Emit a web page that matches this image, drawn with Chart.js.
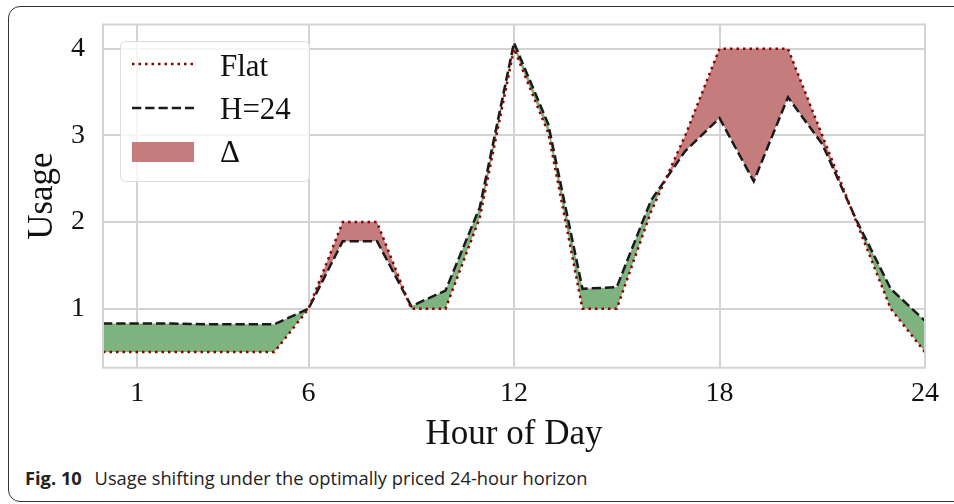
<!DOCTYPE html>
<html>
<head>
<meta charset="utf-8">
<script src="https://cdn.jsdelivr.net/npm/chart.js@4.4.1/dist/chart.umd.min.js"></script>
<style>
  body { margin: 0; background: #fff; }
  #wrap { position: relative; width: 954px; height: 504px; overflow: hidden; }
  #frame { position: absolute; left: 8px; top: 6px; width: 990px; height: 496px; box-sizing: border-box;
           border: 1.5px solid #333; border-radius: 12px; }
  #chart { position: absolute; left: 0; top: 0; }
  #caption { position: absolute; left: 25px; top: 469px; font-family: "Open Sans", sans-serif; font-size: 18.3px;
             line-height: 18px; color: #222; white-space: nowrap; }
  #caption b { font-weight: 700; margin-right: 8px; }
</style>
</head>
<body>
<div id="wrap">
  <div id="frame"></div>
  <canvas id="chart" width="954" height="460"></canvas>
  <div id="caption"><b>Fig. 10</b> Usage shifting under the optimally priced 24-hour horizon</div>
</div>
<script>
// hours of the day and usage of each schedule
const hours = [0, 1, 2, 3, 4, 5, 6, 7, 8, 9, 10, 11, 12, 13, 14, 15, 16, 17, 18, 19, 20, 21, 22, 23, 24];
const flatUsage = [0.5, 0.5, 0.5, 0.5, 0.5, 0.5, 1.0, 2.0, 2.0, 1.0, 1.0, 2.05, 4.0, 3.03, 1.0, 1.0, 2.12, 3.0, 4.0, 4.0, 4.0, 3.0, 2.0, 1.0, 0.5];
const h24Usage = [0.83, 0.83, 0.83, 0.82, 0.82, 0.82, 1.0, 1.78, 1.78, 1.03, 1.21, 2.17, 4.07, 3.13, 1.23, 1.25, 2.25, 2.82, 3.2, 2.47, 3.44, 2.9, 2.02, 1.23, 0.86];
const xTicks = [1, 6, 12, 18, 24];
const yTicks = [1, 2, 3, 4];
const legendLabels = ["Flat", "H=24", "\u0394"];

const serif = '"Liberation Serif", "Times New Roman", serif';
const red = "#8b0000";
const deltaRed = "rgb(196,124,124)";
const deltaGreen = "rgb(126,178,126)";
const gridColor = "#d3d3d3";

// frame round the plot and the legend box in the top left corner
const frameAndLegend = {
    id: "frameAndLegend",
    afterDatasetsDraw(chart) {
        const a = chart.chartArea;
        const ctx = chart.ctx;
        ctx.save();
        ctx.strokeStyle = gridColor;
        ctx.lineWidth = 2;
        ctx.strokeRect(a.left, a.top, a.right - a.left, a.bottom - a.top);
        ctx.restore();
    },
    afterDraw(chart) {
        const ctx = chart.ctx;
        ctx.save();
        ctx.beginPath();
        ctx.roundRect(120.5, 41.5, 189, 140, 5);
        ctx.fillStyle = "rgba(255,255,255,0.8)";
        ctx.fill();
        ctx.strokeStyle = "#dcdcdc";
        ctx.lineWidth = 1;
        ctx.stroke();

        ctx.lineCap = "butt";
        ctx.lineWidth = 2.5;
        ctx.strokeStyle = red;
        ctx.setLineDash([2.5, 4]);
        ctx.beginPath(); ctx.moveTo(132, 64); ctx.lineTo(194, 64); ctx.stroke();

        ctx.strokeStyle = "#1a1a1a";
        ctx.setLineDash([9.25, 4]);
        ctx.beginPath(); ctx.moveTo(132, 108); ctx.lineTo(194, 108); ctx.stroke();
        ctx.setLineDash([]);

        ctx.fillStyle = deltaRed;
        ctx.fillRect(132, 142, 62, 20);

        ctx.fillStyle = "#111";
        ctx.font = "31px " + serif;
        ctx.textBaseline = "alphabetic";
        ctx.fillText(legendLabels[0], 220, 76);
        ctx.fillText(legendLabels[1], 220, 119);
        ctx.fillText(legendLabels[2], 220, 162);
        ctx.restore();
    }
};

// keep the plot box where the reference has it
const noScalePadding = s => {
    s.paddingTop = 0; s.paddingBottom = 0; s.paddingLeft = 0; s.paddingRight = 0;
};

new Chart(document.getElementById("chart"), {
    type: "line",
    data: {
        datasets: [{
            label: legendLabels[0],
            data: hours.map((h, i) => ({ x: h, y: flatUsage[i] })),
            borderColor: red,
            borderWidth: 2.5,
            borderDash: [2.5, 4],
            borderCapStyle: "butt",
            pointRadius: 0,
            tension: 0,
            fill: { target: 1, above: deltaRed, below: deltaGreen }
        }, {
            label: legendLabels[1],
            data: hours.map((h, i) => ({ x: h, y: h24Usage[i] })),
            borderColor: "#1a1a1a",
            borderWidth: 2.5,
            borderDash: [9.25, 4],
            pointRadius: 0,
            tension: 0,
            fill: false
        }]
    },
    options: {
        responsive: false,
        animation: false,
        devicePixelRatio: 1,
        layout: { padding: { top: 24.5, right: 29, bottom: 0, left: 0 } },
        plugins: {
            legend: { display: false },
            tooltip: { enabled: false },
            filler: { drawTime: "beforeDatasetsDraw" }
        },
        scales: {
            x: {
                type: "linear",
                min: 0,
                max: 24,
                afterBuildTicks: s => { s.ticks = xTicks.map(v => ({ value: v })); },
                afterFit: s => { s.height = 92.3; noScalePadding(s); },
                grid: { color: gridColor, lineWidth: 2, drawTicks: false },
                border: { display: false },
                ticks: { font: { family: serif, size: 28 }, color: "#111", padding: 9, maxRotation: 0, autoSkip: false },
                title: { display: true, text: "Hour of Day", font: { family: serif, size: 35 }, color: "#111",
                         padding: { top: 0, bottom: 4 } }
            },
            y: {
                min: 0.32,
                max: 4.28,
                afterBuildTicks: s => { s.ticks = yTicks.map(v => ({ value: v })); },
                afterFit: s => { s.width = 103; noScalePadding(s); },
                grid: { color: gridColor, lineWidth: 2, drawTicks: false },
                border: { display: false },
                ticks: { font: { family: serif, size: 28 }, color: "#111", padding: 18 },
                title: { display: true, text: "Usage", font: { family: serif, size: 35 }, color: "#111",
                         padding: { top: 22, bottom: 0 } }
            }
        }
    },
    plugins: [frameAndLegend]
});
</script>
</body>
</html>
